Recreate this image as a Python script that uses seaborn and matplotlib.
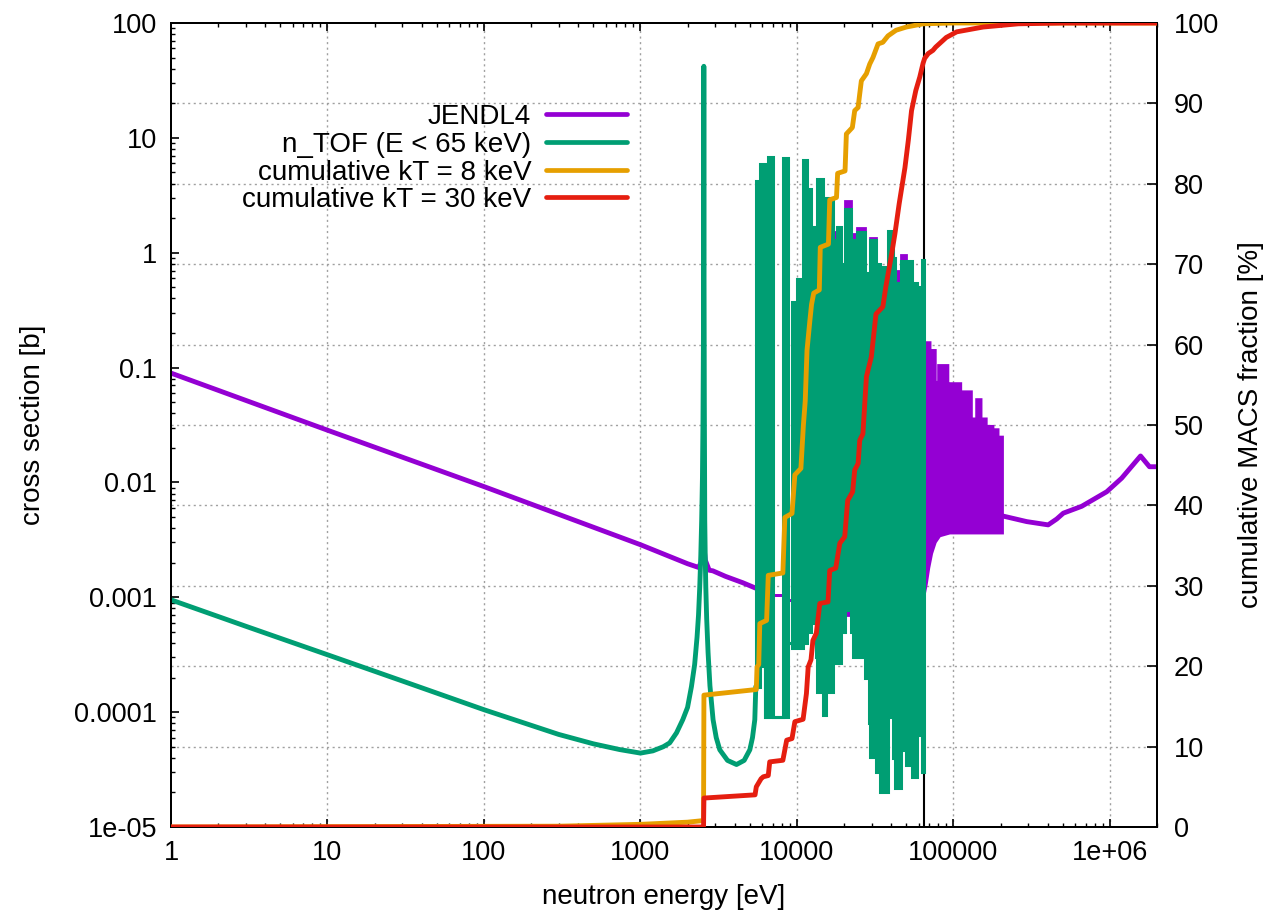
import numpy as np
import matplotlib
matplotlib.use("Agg")
import matplotlib.pyplot as plt
import seaborn as sns
from matplotlib.lines import Line2D
from matplotlib.ticker import LogLocator, NullFormatter, FixedLocator
from matplotlib.transforms import blended_transform_factory

# ---------------- data ----------------
# JENDL4 below the resolved resonance cluster (eV, barn)
jendl_low_E = [1, 10, 100, 1000, 2000, 2350, 2480, 2540, 2600, 2750, 2900, 3500, 4500, 5460]
jendl_low_xs = [0.0895, 0.0285, 0.0092, 0.00287, 0.00196, 0.00182, 0.0021, 0.0028, 0.0021, 0.00172,
                0.0017, 0.00152, 0.00134, 0.0012]

# n_TOF below 5.5 keV (eV, barn)
ntof_low_E = [1, 3, 10, 30, 100, 300, 500, 738, 1000, 1200, 1400, 1538, 1700, 1864, 2000, 2118,
              2220, 2300, 2350, 2393, 2430, 2462, 2490, 2510, 2525, 2533, 2538, 2541, 2544, 2550,
              2560, 2576, 2595, 2616, 2650, 2705, 2780, 2911, 3050, 3214, 3600, 4110, 4600, 5000,
              5200, 5380, 5460]
ntof_low_xs = [9.5e-4, 5.6e-4, 3.16e-4, 1.87e-4, 1.05e-4, 6.4e-5, 5.3e-5, 4.72e-5, 4.4e-5, 4.6e-5,
               5.0e-5, 5.4e-5, 6.6e-5, 8.6e-5, 1.1e-4, 1.67e-4, 2.6e-4, 4.5e-4, 7e-4, 1.23e-3,
               2.3e-3, 4.7e-3, 0.011, 0.035, 0.15, 0.8, 5.0, 42.0, 5.0, 0.6, 0.05, 4.7e-3, 2.2e-3,
               1.23e-3, 6.5e-4, 3.3e-4, 1.7e-4, 8.6e-5, 6.0e-5, 4.7e-5, 3.8e-5, 3.5e-5, 3.8e-5,
               4.7e-5, 6.0e-5, 8.6e-5, 1.67e-4]

# resonance cluster 5.46 keV - 65 keV : segment edges (eV)
res_edges = [5460, 5790, 6240, 6560, 7020, 8130, 8750, 9270, 9940, 10700, 10900, 11660, 12330,
             12690, 13300, 13440, 14570, 15400, 16950, 18000, 19100, 20200, 22000, 22700, 24200,
             27200, 28700, 29200, 32200, 33900, 38200, 41000, 42300, 46400, 50000, 54500, 58800,
             62800, 65000]
ntof_res_top = [4.2, 5.9, 9e-5, 6.8, 9e-5, 6.7, 4e-4, 0.37, 0.59, 0.2, 6.4, 3.6, 0.47, 1.67, 0.5,
                4.4, 0.4, 3.0, 1.3, 1.67, 0.8, 2.4, 0.75, 1.3, 1.5, 0.66, 0.5, 1.3, 0.8, 0.75, 1.55,
                0.9, 0.55, 0.85, 0.85, 0.55, 0.5, 0.87]
ntof_res_bot = [1.67e-4, 2.5e-4, 9e-5, 9e-5, 9e-5, 9e-5, 4e-4, 3.6e-4, 3.6e-4, 3.6e-4, 4e-4, 5e-4,
                7e-4, 6e-4, 3e-4, 1.5e-4, 9.5e-5, 1.5e-4, 2.7e-4, 2.7e-4, 5e-4, 7.7e-4, 5e-4, 3e-4,
                3e-4, 2e-4, 8e-5, 4.1e-5, 3e-5, 2e-5, 9e-5, 4e-5, 2.2e-5, 4.7e-5, 3.5e-5, 2.7e-5,
                6.3e-5, 3e-5]
jendl_res_top = [4.2, 5.9, 1.15e-3, 6.8, 1.05e-3, 6.7, 9.5e-4, 0.37, 0.59, 0.2, 6.4, 3.6, 0.47,
                 1.67, 0.5, 4.4, 0.4, 3.0, 1.5, 1.67, 0.8, 2.8, 0.75, 1.45, 1.65, 0.66, 0.5, 1.35,
                 0.8, 0.75, 1.55, 0.9, 0.7, 0.95, 0.85, 0.55, 0.5, 0.87]
jendl_res_bot = [1.2e-3, 1.15e-3, 1.15e-3, 1.1e-3, 1.05e-3, 1e-3, 9.5e-4, 9e-4, 8.5e-4, 8.5e-4,
                 8e-4, 7.5e-4, 7.5e-4, 7e-4, 3e-4, 1.5e-4, 9.5e-5, 1.5e-4, 2.7e-4, 2.7e-4, 5e-4,
                 7e-4, 5e-4, 3e-4, 3e-4, 2e-4, 8e-5, 4.1e-5, 3e-5, 2e-5, 9e-5, 4e-5, 2.2e-5, 4.7e-5,
                 3.5e-5, 2.7e-5, 6.3e-5, 3e-5]

# JENDL4 band 65 keV - 207 keV
jendl_hi_edges = [65000, 71300, 77000, 80000, 92700, 95500, 112000, 121000, 131000, 140000,
                  151000, 163000, 167000, 180000, 194000, 207000]
jendl_hi_top = [0.166, 0.142, 0.075, 0.105, 0.056, 0.073, 0.062, 0.062, 0.036, 0.053, 0.036,
                0.025, 0.031, 0.029, 0.025]
jendl_hi_floor_E = [65000, 67500, 70000, 73000, 77000, 82000, 95000, 207000]
jendl_hi_floor = [1.0e-3, 1.3e-3, 1.8e-3, 2.4e-3, 3.0e-3, 3.4e-3, 3.6e-3, 3.6e-3]

# JENDL4 smooth part above 207 keV
jendl_fast_E = [207e3, 294e3, 403e3, 457e3, 504e3, 661e3, 955e3, 1.19e6, 1.57e6, 1.79e6, 2.0e6]
jendl_fast_xs = [5.1e-3, 4.56e-3, 4.27e-3, 4.8e-3, 5.4e-3, 6.2e-3, 8.3e-3, 0.0109, 0.017, 0.0137,
                 0.0137]

# cumulative MACS fraction (%)
cum8_E = [1, 300, 1000, 2000, 2530, 2545, 5500, 5560, 5700, 5790, 6400, 6560, 8130, 8370, 9300,
          9700, 10600, 11000, 11300, 11600, 12100, 12400, 12800, 13900, 14100, 15900, 16200,
          17900, 18200, 20300, 20700, 22600, 23400, 24600, 25200, 25800, 27800, 29200, 30600,
          33000, 35400, 38200, 43000, 50000, 64000, 100000, 2e6]
cum8_pct = [0, 0.1, 0.33, 0.6, 0.8, 16.4, 17.1, 19.9, 20.2, 25.3, 25.7, 31.3, 31.6, 38.5, 39.0,
            43.8, 44.6, 50.0, 53.0, 59.3, 63.0, 65.0, 66.4, 66.8, 72.1, 72.5, 78.0, 78.3, 81.3,
            81.6, 86.2, 87.0, 89.1, 89.5, 91.2, 92.8, 93.7, 94.9, 95.7, 97.4, 97.6, 98.4, 99.1,
            99.5, 99.9, 100, 100]
cum30_E = [1, 2530, 2545, 5400, 5500, 5900, 6100, 6560, 6700, 8130, 8600, 9300, 9700, 10950,
           11500, 11800, 12300, 12650, 13300, 14000, 15800, 16200, 17700, 18800, 20200, 21100,
           22700, 23400, 24600, 25200, 26400, 27800, 29900, 32000, 35400, 37000, 40000, 42300,
           45000, 49000, 51500, 54000, 57500, 61000, 64000, 65500, 69000, 74000, 77000, 90000,
           105000, 155000, 260000, 500000, 2e6]
cum30_pct = [0, 0, 3.6, 4.0, 5.0, 6.0, 6.25, 6.4, 8.1, 8.3, 10.8, 11.0, 13.1, 13.4, 16.6, 19.9,
             20.8, 23.2, 24.1, 27.8, 28.0, 31.9, 32.2, 35.3, 36.1, 40.6, 41.7, 44.4, 45.2, 48.1,
             48.9, 56.0, 58.5, 63.8, 64.7, 67.2, 70.9, 73.8, 77.5, 82.0, 85.4, 89.1, 91.6, 93.3,
             95.0, 95.6, 96.2, 96.6, 97.0, 98.2, 98.9, 99.5, 99.9, 100, 100]

cut_E = 65000  # n_TOF upper limit

x_ticks = [1, 10, 100, 1000, 10000, 100000, 1000000]
x_tick_labels = ["1", "10", "100", "1000", "10000", "100000", "1e+06"]
y_ticks = [1e-5, 1e-4, 1e-3, 1e-2, 1e-1, 1, 10, 100]
y_tick_labels = ["1e-05", "0.0001", "0.001", "0.01", "0.1", "1", "10", "100"]
y2_ticks = [0, 10, 20, 30, 40, 50, 60, 70, 80, 90, 100]

series_labels = ["JENDL4", "n_TOF (E < 65 keV)", "cumulative kT = 8 keV", "cumulative kT = 30 keV"]
colors = ["#9400d3", "#009e73", "#e69f00", "#e51e10"]

# ---------------- helpers ----------------
def step_path(edges, vals):
    xs, ys = [], []
    for i, v in enumerate(vals):
        xs += [edges[i], edges[i + 1]]
        ys += [v, v]
    return xs, ys

def block_polygon(edges, top, bot):
    xt, yt = step_path(edges, top)
    xb, yb = step_path(edges, bot)
    return xt + xb[::-1], yt + yb[::-1]

# ---------------- figure ----------------
sns.set_theme(style="white")
plt.rcParams["font.family"] = ["Liberation Sans", "DejaVu Sans"]
plt.rcParams["text.color"] = "black"
plt.rcParams["axes.labelcolor"] = "black"
FS = 20
TFS = 19.5

fig = plt.figure(figsize=(12.68, 9.13), dpi=100)
ax = fig.add_axes([171 / 1268, 1 - 827 / 913, (1157 - 171) / 1268, (827 - 23) / 913])
ax.set_xscale("log")
ax.set_yscale("log")
ax.set_xlim(1, 2e6)
ax.set_ylim(1e-5, 100)
ax.set_facecolor("white")
ax2 = ax.twinx()
ax2.set_ylim(0, 100)

# grid (behind the data)
grid_kw = dict(color="#a0a0a0", lw=1.0, ls=(0, (1.5, 2.5)), zorder=0.5)
for xt in x_ticks[1:]:
    ax.axvline(xt, **grid_kw)
tr = blended_transform_factory(ax.transAxes, ax2.transData)
for yt in y2_ticks[1:-1]:
    ax.plot([0, 1], [yt, yt], transform=tr, **grid_kw)

# vertical line at the n_TOF limit
ax.axvline(cut_E, color="black", lw=1.5, zorder=1.5)

LW = 3.5
# JENDL4
sns.lineplot(x=jendl_low_E, y=jendl_low_xs, ax=ax, color=colors[0], lw=LW,
             estimator=None, sort=False, zorder=2)
px, py = block_polygon(res_edges, jendl_res_top, jendl_res_bot)
ax.fill(px, py, facecolor=colors[0], edgecolor=colors[0], lw=2.0, zorder=2)
xt, yt = step_path(jendl_hi_edges, jendl_hi_top)
ax.fill(xt + jendl_hi_floor_E[::-1], yt + jendl_hi_floor[::-1], facecolor=colors[0],
        edgecolor=colors[0], lw=1.5, zorder=2)
sns.lineplot(x=jendl_fast_E, y=jendl_fast_xs, ax=ax, color=colors[0], lw=LW,
             estimator=None, sort=False, zorder=2)

# n_TOF
sns.lineplot(x=ntof_low_E, y=ntof_low_xs, ax=ax, color=colors[1], lw=LW,
             estimator=None, sort=False, zorder=3)
px, py = block_polygon(res_edges, ntof_res_top, ntof_res_bot)
ax.fill(px, py, facecolor=colors[1], edgecolor=colors[1], lw=2.2, zorder=3)

# cumulative curves
sns.lineplot(x=cum8_E, y=cum8_pct, ax=ax2, color=colors[2], lw=LW, estimator=None, sort=False,
             zorder=4)
sns.lineplot(x=cum30_E, y=cum30_pct, ax=ax2, color=colors[3], lw=LW, estimator=None, sort=False,
             zorder=5)
ax2.set_xlim(1, 2e6)

# ticks
ax.set_xticks(x_ticks)
ax.set_xticklabels(x_tick_labels)
ax.xaxis.set_minor_locator(LogLocator(base=10, subs=np.arange(2, 10)))
ax.xaxis.set_minor_formatter(NullFormatter())
ax.set_yticks(y_ticks)
ax.set_yticklabels(y_tick_labels)
ax.yaxis.set_minor_locator(LogLocator(base=10, subs=np.arange(2, 10)))
ax.yaxis.set_minor_formatter(NullFormatter())
ax.tick_params(axis="x", which="both", direction="in", top=True, bottom=True, labelsize=TFS,
               pad=9, colors="black")
ax.tick_params(axis="y", which="both", direction="in", left=True, right=False, labelsize=TFS,
               pad=10, colors="black")
ax.tick_params(which="major", length=6, width=1.2)
ax.tick_params(which="minor", length=3, width=1.0)
ax2.set_yticks(y2_ticks)
ax2.yaxis.set_minor_locator(FixedLocator([]))
ax2.tick_params(axis="y", which="both", direction="in", right=True, left=False, labelsize=TFS,
                pad=12, length=7, width=1.2, colors="black")

for a in (ax, ax2):
    for s in a.spines.values():
        s.set_color("black")
        s.set_linewidth(1.4)
        s.set_visible(True)

ax.set_xlabel("neutron energy [eV]", fontsize=FS, labelpad=13, color="black")
ax.set_ylabel("cross section [b]", fontsize=FS, labelpad=20, color="black")
ax2.set_ylabel("cumulative MACS fraction [%]", fontsize=FS, labelpad=14, color="black")

handles = [Line2D([], [], color=c, lw=3.4) for c in colors]
leg = ax2.legend(handles, series_labels, loc="upper right", bbox_to_anchor=(0.4625, 0.899),
                 frameon=False, markerfirst=False, handlelength=2.9, handletextpad=0.55,
                 labelspacing=0.06, borderpad=0, borderaxespad=0, fontsize=FS)
for t in leg.get_texts():
    t.set_color("black")

fig.savefig("out.png", dpi=100, facecolor="white")
